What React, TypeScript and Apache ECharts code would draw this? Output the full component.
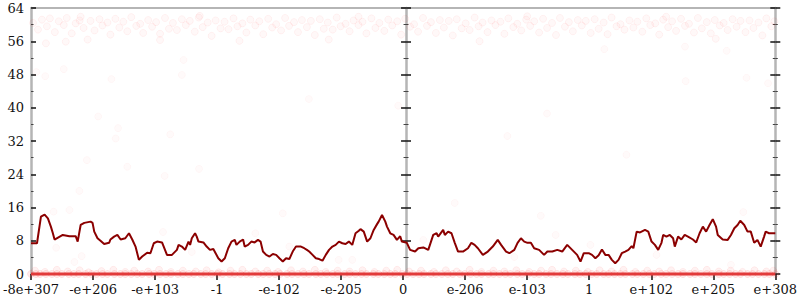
import React, { useEffect, useRef } from "react";
import * as echarts from "echarts";

// x positions on a 0..750 rank scale; 13 labelled ticks every 62.5
const xTickLabels = ["-8e+307", "-e+206", "-e+103", "-1", "-e-102", "-e-205", "0", "e-206", "e-103", "1", "e+102", "e+205", "e+308"];
const xMin = 0;
const xMax = 750;
const xStep = 62.5;
const yMin = 0;
const yMax = 64;
const yStep = 8;

// moving average line
const lineX = [0, 6, 10, 13.7, 17, 20, 22, 23.7, 32, 38.7, 45, 47, 50, 53.7, 60, 62, 63.7, 67, 70, 73.7, 78.7, 80, 83.7, 87, 90.3, 95, 98.7, 102, 105.3, 108.7, 112, 117, 120.3, 123.7, 127, 132, 133.7, 137, 142, 147, 148.7, 152, 155.3, 158.7, 160.3, 162, 165.3, 167, 168.7, 173.7, 177, 180.3, 183.7, 186, 188.7, 192, 195.3, 198.7, 202, 205.3, 207, 210.3, 213.7, 215.3, 218.7, 222, 225.3, 228.7, 231.3, 233.7, 237, 240.3, 243.7, 247, 250.3, 253.7, 257, 260.3, 263.7, 267, 272, 275.3, 278, 280.3, 283.7, 287, 290.3, 293.7, 297, 300.3, 303.7, 307, 310.3, 313.7, 317, 320.3, 323.7, 327, 330.3, 332, 335.3, 338.7, 342, 345.3, 348.7, 350.3, 353.7, 357, 358.7, 362, 365.3, 368.7, 372, 373.7, 378.7, 382, 387, 390.3, 395.3, 400.3, 405.3, 408.7, 410.3, 415.3, 417, 420.3, 423.7, 427, 430.3, 435.3, 440.3, 443.7, 447, 450.3, 455.3, 460.3, 465.3, 470.3, 473.7, 478.7, 482, 487, 490.3, 493.7, 497, 500.3, 503.7, 507, 512, 517, 520.3, 525.3, 530.3, 535.3, 540.3, 545.3, 550.3, 553.7, 557, 562, 565.3, 568.7, 572, 575.3, 578.7, 582, 585.3, 588.7, 592, 595.3, 598.7, 602, 605.3, 607, 610.3, 613.7, 618.7, 622, 625.3, 628.7, 632, 635.3, 637, 640.3, 643.7, 647, 648.7, 652, 655.3, 658.7, 662, 667, 670.3, 673.7, 677, 680.3, 683.7, 687, 690.3, 692, 697, 702, 705.3, 708.7, 712, 714.7, 718.7, 722, 725.3, 728.7, 732, 735.3, 738.7, 740.3, 743.7, 750];
const lineY = [7.4, 7.4, 13.8, 14.3, 13.4, 11.4, 9.8, 8.3, 9.4, 9.1, 9.1, 7.8, 11.8, 12.3, 12.6, 12.3, 10.2, 8.6, 8.0, 7.2, 7.5, 8.3, 9.0, 9.4, 8.3, 8.6, 9.8, 8.3, 6.6, 3.4, 4.2, 5.1, 5.0, 7.4, 7.8, 7.6, 6.6, 4.6, 4.6, 5.8, 7.0, 6.6, 5.8, 7.8, 7.0, 8.6, 9.8, 9.0, 7.8, 7.6, 6.6, 5.8, 6.0, 5.0, 3.8, 3.0, 3.8, 6.2, 7.8, 8.2, 7.0, 7.8, 8.3, 6.6, 7.0, 7.8, 7.6, 8.2, 7.8, 5.4, 4.6, 4.2, 4.8, 4.6, 3.8, 3.0, 3.8, 3.6, 5.4, 6.6, 6.6, 6.2, 5.8, 5.4, 4.6, 3.8, 3.6, 3.2, 4.6, 5.8, 6.6, 7.0, 7.8, 7.4, 7.2, 7.8, 7.0, 9.8, 10.4, 10.8, 10.2, 7.8, 8.6, 10.6, 12.0, 12.6, 14.2, 12.6, 11.4, 9.8, 9.4, 8.2, 9.1, 7.8, 7.5, 5.8, 5.4, 6.2, 6.4, 5.8, 9.4, 9.8, 9.0, 10.6, 9.4, 10.2, 9.8, 7.5, 5.4, 5.4, 6.2, 7.5, 7.0, 6.2, 4.6, 5.4, 6.6, 8.2, 7.0, 5.4, 5.0, 5.8, 7.5, 8.6, 7.8, 7.5, 7.5, 6.2, 5.8, 4.6, 5.4, 5.4, 5.8, 5.4, 7.0, 5.8, 4.6, 3.0, 5.0, 5.0, 4.6, 3.8, 4.5, 5.9, 4.6, 4.6, 3.4, 2.6, 3.4, 5.0, 5.4, 5.8, 6.7, 6.2, 10.2, 10.0, 10.6, 10.2, 7.8, 7.0, 5.8, 7.5, 9.4, 9.0, 9.4, 8.6, 6.6, 9.0, 8.3, 9.4, 9.0, 8.3, 7.6, 9.8, 11.4, 10.2, 11.8, 13.2, 11.4, 9.4, 8.3, 8.2, 9.4, 11.0, 11.8, 12.8, 11.8, 10.2, 10.2, 7.5, 8.2, 6.6, 9.0, 10.2, 9.8, 9.8];

// dense band of points near the top
const topBand: [number, number][] = [[2,60.4],[7,58.8],[11,61.2],[16,59.6],[19,61.5],[24,58.2],[28,60.8],[33,59.9],[36,61.6],[41,57.9],[45,60.3],[49,61.0],[53,59.2],[57,56.4],[60,60.9],[64,58.6],[69,61.3],[72,59.8],[77,60.5],[80,57.6],[85,61.4],[89,59.3],[93,60.7],[97,58.4],[101,61.8],[106,59.7],[110,60.2],[113,58.0],[118,61.1],[122,59.5],[126,60.6],[130,57.8],[135,61.6],[139,59.0],[143,60.4],[147,58.7],[152,61.3],[156,59.9],[160,60.9],[165,58.3],[169,61.7],[173,59.4],[178,60.5],[182,57.3],[186,61.0],[191,59.1],[195,60.7],[199,58.9],[204,61.5],[208,59.6],[213,60.3],[217,58.1],[221,61.2],[226,59.8],[230,60.8],[234,57.7],[239,61.4],[243,59.3],[247,60.1],[252,58.6],[256,61.6],[260,59.7],[265,60.6],[269,58.2],[273,61.1],[278,59.4],[282,60.9],[286,57.5],[291,61.3],[295,59.0],[299,60.5],[304,58.8],[308,61.7],[312,59.6],[317,60.2],[321,58.4],[325,61.0],[330,59.9],[334,60.7],[338,57.9],[343,61.5],[347,59.2],[351,60.4],[356,58.5],[360,61.2],[364,59.8],[369,60.8],[373,57.6],[377,61.4],[382,59.5],[386,60.1],[390,58.3],[395,61.6],[399,59.7],[403,60.6],[408,58.0],[412,61.1],[416,59.3],[421,60.9],[425,57.4],[429,61.3],[434,59.1],[438,60.3],[442,58.7],[447,61.7],[451,59.6],[455,60.5],[460,58.2],[464,61.0],[468,59.9],[473,60.7],[477,57.8],[481,61.5],[486,59.4],[490,60.2],[494,58.6],[499,61.2],[503,59.7],[507,60.8],[512,58.1],[516,61.4],[520,59.2],[525,60.4],[529,57.5],[533,61.6],[538,59.5],[542,60.6],[546,58.4],[551,61.1],[555,59.8],[559,60.9],[564,58.0],[568,61.3],[572,59.0],[577,60.5],[581,57.7],[585,61.7],[590,59.6],[594,60.1],[598,58.8],[603,61.0],[607,59.3],[611,60.7],[616,58.3],[620,61.5],[624,59.9],[629,60.3],[633,57.6],[637,61.2],[642,59.4],[646,60.8],[650,58.5],[655,61.4],[659,59.7],[663,60.2],[668,58.1],[672,61.6],[676,59.1],[681,60.6],[685,57.9],[689,61.1],[694,59.8],[698,60.4],[702,58.7],[707,61.3],[711,59.5],[715,60.9],[720,58.2],[724,61.0],[728,59.2],[733,60.5],[737,57.4],[741,61.5],[746,59.6],[749,60.8],[15,55.5],[35,55.9],[130,56.3],[210,56.1],[300,56.4],[452,56.0],[690,56.6],[50,61.9],[170,62.1],[330,61.9],[500,62.0],[640,61.9]];

// sparse points in the middle
const sparsePts: [number, number][] = [[67.7,37.9],[87.7,35.1],[85.3,32.6],[140.3,33.6],[56.3,27.4],[97,25.8],[134.7,23.6],[169.3,25.3],[48.7,20],[5.3,48.6],[14.3,47.6],[33,49.3],[81,46.9],[152,47.9],[153.7,51.5],[659.7,46.4],[721,47.2],[742.7,45.9],[577.7,54.1],[659,54.7],[701,53.7],[22.7,15],[38.7,15.4],[25.3,6.3],[43.7,2.9],[51,4.3],[133,10.1],[162,5.3],[253.7,14.6],[226,9.8],[260.3,6.6],[310,3.4],[323.7,3.4],[427,17.1],[513.7,14],[395.3,8.2],[563.7,7],[528.7,9.4],[487,4.1],[717.7,14.9],[630.3,4.6],[705.3,2.2],[370,40.5],[480,33.2],[600,28.7],[280,42.1],[520,38.6]];

// points slightly above zero
const haloPts: [number, number][] = [[4,0.8],[14,0.5],[26,1.0],[37,0.6],[49,0.9],[58,0.4],[71,0.7],[83,1.0],[95,0.5],[104,0.8],[118,0.6],[129,1.0],[141,0.5],[153,0.8],[166,0.6],[177,0.9],[189,0.4],[201,0.8],[213,1.0],[226,0.6],[238,0.8],[249,0.5],[262,0.9],[274,0.6],[286,1.0],[297,0.5],[309,0.8],[321,0.6],[334,0.9],[346,0.5],[358,0.8],[369,1.0],[381,0.6],[393,0.8],[406,0.5],[418,0.9],[429,0.6],[442,1.0],[454,0.5],[466,0.8],[477,0.6],[489,0.9],[502,0.5],[514,0.8],[525,1.0],[537,0.6],[549,0.8],[561,0.5],[573,0.9],[585,0.6],[597,1.0],[609,0.5],[621,0.8],[633,0.6],[645,0.9],[657,0.5],[669,0.8],[681,1.0],[693,0.6],[705,0.8],[717,0.5],[729,0.9],[741,0.6],[748,0.8]];

// very dense points at zero
const zeroX = [0, 5, 9, 15, 21, 26, 31, 38, 43, 48, 55, 61, 66, 72, 77, 84, 90, 95, 101, 107, 112, 119, 124, 130, 136, 141, 148, 153, 159, 164, 171, 176, 182, 188, 193, 200, 205, 211, 217, 222, 229, 234, 240, 246, 251, 258, 263, 269, 275, 280, 287, 292, 298, 304, 309, 316, 321, 327, 333, 338, 345, 350, 356, 362, 367, 374, 379, 385, 391, 396, 403, 408, 414, 420, 425, 432, 437, 443, 449, 454, 461, 466, 472, 478, 483, 490, 495, 501, 507, 512, 519, 524, 530, 536, 541, 548, 553, 559, 565, 570, 577, 582, 588, 594, 599, 606, 611, 617, 623, 628, 635, 640, 646, 652, 657, 664, 669, 675, 681, 686, 693, 698, 704, 710, 715, 722, 727, 733, 739, 744, 750];

const FONT = "'DejaVu Serif', serif";
const AXIS_GRAY = "#b5b5b5";

function makeY(position: "left" | "right", offset: number, inside: boolean, opts: any = {}) {
  return {
    type: "value",
    min: yMin,
    max: yMax,
    interval: yStep,
    position,
    offset,
    splitLine: { show: false },
    axisLine: { show: opts.line !== false, lineStyle: { color: AXIS_GRAY, width: 2.5 } },
    axisTick: { show: true, inside, length: 5, lineStyle: { color: "#111", width: 1.5 } },
    minorTick: { show: true, splitNumber: 2, length: 2.5, lineStyle: { color: "#444", width: 1 } },
    axisLabel: opts.labels
      ? { show: true, fontFamily: FONT, fontSize: 13, color: "#111", margin: 7 }
      : { show: false },
  };
}

export default function App() {
  const ref = useRef<HTMLDivElement>(null);
  useEffect(() => {
    if (!ref.current) return;
    const chart = echarts.init(ref.current, null, { renderer: "svg" });
    chart.setOption({
      animation: false,
      backgroundColor: "#ffffff",
      grid: { left: 28, right: 22, top: 8, bottom: 26, containLabel: false },
      xAxis: [
        {
          type: "value",
          min: xMin,
          max: xMax,
          interval: xStep,
          position: "bottom",
          splitLine: { show: false },
          axisLine: { show: true, onZero: false, lineStyle: { color: AXIS_GRAY, width: 2 } },
          axisTick: { show: true, length: 6, lineStyle: { color: "#111", width: 1.5 } },
          axisLabel: {
            show: true,
            fontFamily: FONT,
            fontSize: 13,
            color: "#111",
            margin: 9,
            showMinLabel: true,
            showMaxLabel: true,
            formatter: (v: number) => xTickLabels[Math.round((v - xMin) / xStep)] ?? "",
          },
        },
        {
          type: "value",
          min: xMin,
          max: xMax,
          position: "top",
          splitLine: { show: false },
          axisLine: { show: true, onZero: false, lineStyle: { color: AXIS_GRAY, width: 2 } },
          axisTick: { show: false },
          axisLabel: { show: false },
        },
      ],
      yAxis: [
        makeY("left", 0, true, { labels: true }),
        makeY("left", -375, true, {}),
        makeY("left", -375, false, { line: false }),
        makeY("right", 0, true, {}),
        makeY("right", 0, false, { line: false }),
      ],
      series: [
        {
          type: "scatter",
          data: topBand,
          symbolSize: 7,
          itemStyle: { color: "rgba(255,60,60,0.045)", borderColor: "rgba(255,0,0,0.06)", borderWidth: 1 },
          clip: false,
          silent: true,
        },
        {
          type: "scatter",
          data: sparsePts,
          symbolSize: 7,
          itemStyle: { color: "rgba(255,60,60,0.03)", borderColor: "rgba(255,0,0,0.035)", borderWidth: 1 },
          clip: false,
          silent: true,
        },
        {
          type: "scatter",
          data: haloPts,
          symbolSize: 7,
          itemStyle: { color: "rgba(255,40,40,0.08)", borderColor: "rgba(255,0,0,0.08)", borderWidth: 1 },
          clip: false,
          silent: true,
        },
        {
          type: "scatter",
          data: zeroX.map((x) => [x, 0]),
          symbolSize: 7,
          itemStyle: { color: "rgba(255,50,50,0.12)", borderColor: "rgba(255,0,0,0.12)", borderWidth: 1 },
          clip: false,
          silent: true,
        },
        {
          type: "line",
          data: zeroX.map((x) => [x, 0]),
          showSymbol: false,
          symbol: "none",
          lineStyle: { color: "#e23a3a", width: 3 },
          clip: false,
          silent: true,
        },
        {
          type: "line",
          data: lineX.map((x, i) => [x, lineY[i]]),
          showSymbol: false,
          symbol: "none",
          lineStyle: { color: "#8b0000", width: 2 },
          z: 10,
          silent: true,
        },
      ],
    });
    return () => chart.dispose();
  }, []);
  return (
    <div
      ref={ref}
      style={{ position: "fixed", left: 0, top: 0, width: 800, height: 300, background: "#fff" }}
    />
  );
}
